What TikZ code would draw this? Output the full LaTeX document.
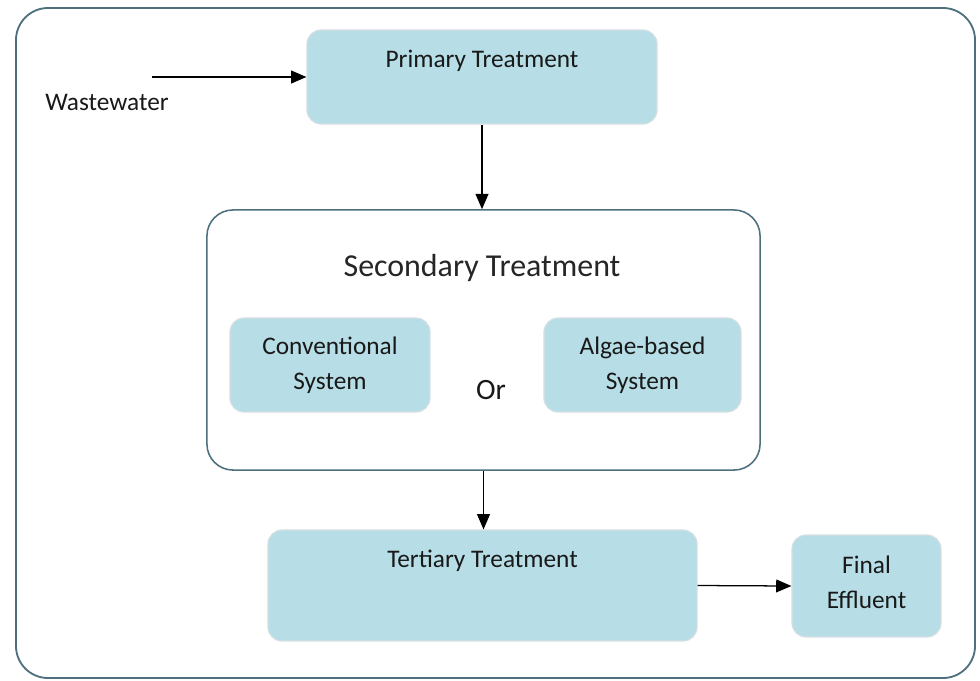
\documentclass[tikz,border=0pt]{standalone}
\usepackage{fontspec}
\setmainfont{Carlito}
\usetikzlibrary{arrows.meta,positioning}
\definecolor{boxblue}{RGB}{183,221,230}
\definecolor{boxedge}{RGB}{214,224,227}
\definecolor{frameedge}{RGB}{78,112,124}
\tikzset{
  procbox/.style={draw=boxedge, fill=boxblue, rounded corners=0.35cm, line width=0.8pt, inner sep=0pt},
  boxtext/.style={font=\fontsize{18}{25}\selectfont, text=black!90, align=center},
  flow/.style={-{Triangle[length=0.38cm,width=0.32cm]}, line width=0.9pt},
}

\begin{document}
\begin{tikzpicture}[x=0.025cm,y=-0.025cm]
	\useasboundingbox (0,0) rectangle (980,680);
	% outer frame
	\draw[frameedge, line width=1.3pt, rounded corners=0.8cm] (16,8) rectangle (975,678);
	% primary
	\node[procbox, minimum width=8.75cm, minimum height=2.35cm,
		label={[boxtext, anchor=center, yshift=-0.78cm]north:Primary Treatment}] (primary) at (482,77) {};
	\coordinate (inlet) at (152,77);
	\node[boxtext] (wastewater) at (107,102) {Wastewater};
	% secondary
	\node[draw=frameedge, fill=white, line width=1.1pt, rounded corners=0.65cm, inner sep=0pt,
		minimum width=13.825cm, minimum height=6.5cm] (secondary) at (483.5,340) {};
	\node[font=\fontsize{22.7}{27}\selectfont, text=black!85] (sectitle) at (482,268) {Secondary Treatment};
	\node[procbox, boxtext, minimum width=5cm, minimum height=2.35cm] (conventional) at (330,365) {Conventional\\System};
	\node[procbox, boxtext, minimum width=4.925cm, minimum height=2.35cm] (algae) at (642.5,365) {Algae-based\\System};
	\node[boxtext, font=\fontsize{21}{25}\selectfont] (or) at (491,390) {Or};
	% tertiary
	\node[procbox, minimum width=10.725cm, minimum height=2.775cm,
		label={[boxtext, anchor=center, yshift=-0.78cm]north:Tertiary Treatment}] (tertiary) at (482.5,585.5) {};
	\node[procbox, minimum width=3.725cm, minimum height=2.55cm,
		label={[boxtext, anchor=center, yshift=0.1cm]center:Final\\Effluent}] (final) at (866.5,586) {};
	% arrows
	\draw[flow] (inlet) -- (primary.west);
	\draw[flow] (primary.south) -- (primary.south |- secondary.north);
	\draw[flow] (secondary.south) -- (secondary.south |- tertiary.north);
	\draw[flow] (tertiary.east) -- (final.west);
\end{tikzpicture}
\end{document}
